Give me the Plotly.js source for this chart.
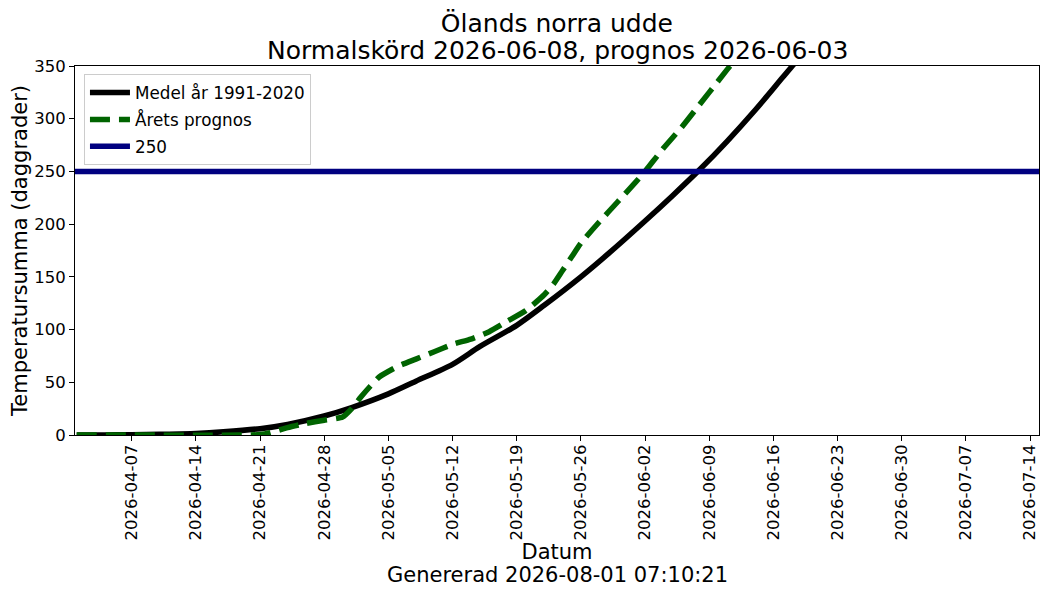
<!DOCTYPE html>
<html>
<head>
<meta charset="utf-8">
<script src="https://cdn.plot.ly/plotly-3.0.1.min.js"></script>
<style>
  html, body { margin: 0; padding: 0; background: #ffffff; }
  #chart { width: 1050px; height: 600px; }
</style>
</head>
<body>
<div id="chart"></div>
<script>
// Mean 1991-2020 (Medel)
const medelDates = ['2026-04-01','2026-04-04','2026-04-07','2026-04-10','2026-04-14','2026-04-17','2026-04-21','2026-04-24','2026-04-28','2026-05-01','2026-05-05','2026-05-08','2026-05-12','2026-05-15','2026-05-19','2026-05-22','2026-05-26','2026-05-29','2026-06-02','2026-06-05','2026-06-08','2026-06-11','2026-06-14','2026-06-17','2026-06-20','2026-06-22'];
const medelValues = [0, 0.1, 0.3, 0.7, 1.5, 3, 6, 10, 18, 26, 39, 51, 67, 84, 104, 123, 150, 172, 203, 227, 252, 279, 308, 339, 370, 392];

// This year's forecast (Årets prognos)
const prognosDates = ['2026-04-01','2026-04-20','2026-04-21','2026-04-22','2026-04-24','2026-04-26','2026-04-28','2026-04-30','2026-05-01','2026-05-02','2026-05-03','2026-05-04','2026-05-06','2026-05-08','2026-05-10','2026-05-12','2026-05-14','2026-05-16','2026-05-18','2026-05-20','2026-05-22','2026-05-23','2026-05-24','2026-05-25','2026-05-26','2026-05-28','2026-05-30','2026-06-01','2026-06-02','2026-06-04','2026-06-06','2026-06-08','2026-06-10','2026-06-12','2026-06-14'];
const prognosValues = [0, 0, 0.5, 2, 7, 11, 14, 17, 25, 36, 46, 55, 65, 72, 79, 86, 91, 98, 108, 118, 133, 143, 156, 169, 182, 202, 221, 240, 250, 272, 292, 314, 336, 358, 378];

// Threshold
const thresholdValue = 250;
const xRange = ['2026-03-31 19:30', '2026-07-14 23:30'];
const yTicks = [0, 50, 100, 150, 200, 250, 300, 350];

// Texts
const titleLine1 = 'Ölands norra udde';
const titleLine2 = 'Normalskörd 2026-06-08, prognos 2026-06-03';
const xTitle = 'Datum';
const generatedText = 'Genererad 2026-08-01 07:10:21';
const yTitle = 'Temperatursumma (daggrader)';

const font = 'DejaVu Sans, Verdana, sans-serif';

const traces = [
  {
    x: medelDates, y: medelValues, name: 'Medel år 1991-2020', legendgroup: 'a',
    type: 'scatter', mode: 'lines',
    line: { color: '#000000', width: 5.5, shape: 'spline', smoothing: 0.8 }
  },
  {
    x: prognosDates, y: prognosValues, name: 'Årets prognos', legendgroup: 'b',
    type: 'scatter', mode: 'lines',
    line: { color: '#006400', width: 5.5, dash: '20px,9px', shape: 'spline', smoothing: 0.5 }
  },
  {
    x: xRange, y: [thresholdValue, thresholdValue], name: String(thresholdValue), legendgroup: 'c',
    type: 'scatter', mode: 'lines',
    line: { color: '#000080', width: 5.5 }
  }
];

const layout = {
  width: 1050, height: 600,
  paper_bgcolor: '#ffffff', plot_bgcolor: '#ffffff',
  font: { family: font, color: '#000000', size: 16.5 },
  margin: { l: 75, r: 11, t: 66, b: 165 },
  title: {
    text: titleLine1,
    font: { family: font, size: 25, color: '#000000' },
    x: 0.5304, xanchor: 'center', xref: 'container',
    y: 1 - 23 / 600, yanchor: 'middle', yref: 'container'
  },
  annotations: [
    {
      text: titleLine2, showarrow: false,
      xref: 'paper', yref: 'paper', x: 0.5, y: 1 + (66 - 50) / 369,
      xanchor: 'center', yanchor: 'middle',
      font: { family: font, size: 25, color: '#000000' }
    },
    {
      text: generatedText, showarrow: false,
      xref: 'paper', yref: 'paper', x: 0.5, y: -(575 - 435) / 369,
      xanchor: 'center', yanchor: 'middle',
      font: { family: font, size: 21, color: '#000000' }
    }
  ],
  xaxis: {
    type: 'date', range: xRange,
    tickmode: 'linear', tick0: '2026-04-07', dtick: 7 * 24 * 3600 * 1000,
    tickformat: '%Y-%m-%d', tickangle: -90,
    ticks: 'outside', ticklen: 5, tickwidth: 1, tickcolor: '#000000',
    tickfont: { family: font, size: 16.5, color: '#000000' },
    ticklabelstandoff: -3,
    showline: true, linecolor: '#000000', linewidth: 1, mirror: true,
    showgrid: false, zeroline: false,
    title: {
      text: xTitle,
      font: { family: font, size: 21, color: '#000000' },
      standoff: 0
    }
  },
  yaxis: {
    range: [0, 350],
    tickmode: 'array', tickvals: yTicks,
    ticks: 'outside', ticklen: 5, tickwidth: 1, tickcolor: '#000000',
    tickfont: { family: font, size: 16.5, color: '#000000' },
    showline: true, linecolor: '#000000', linewidth: 1, mirror: true,
    showgrid: false, zeroline: false,
    title: {
      text: yTitle,
      font: { family: font, size: 21, color: '#000000' },
      standoff: 0
    }
  },
  showlegend: true,
  legend: {
    x: 0.0093, y: 0.978, xanchor: 'left', yanchor: 'top',
    bgcolor: 'rgba(255,255,255,0.8)', bordercolor: '#cccccc', borderwidth: 1,
    font: { family: font, size: 16.8, color: '#000000' },
    itemwidth: 40, tracegroupgap: 2
  }
};

Plotly.newPlot('chart', traces, layout, { displayModeBar: false, staticPlot: true });
</script>
</body>
</html>
